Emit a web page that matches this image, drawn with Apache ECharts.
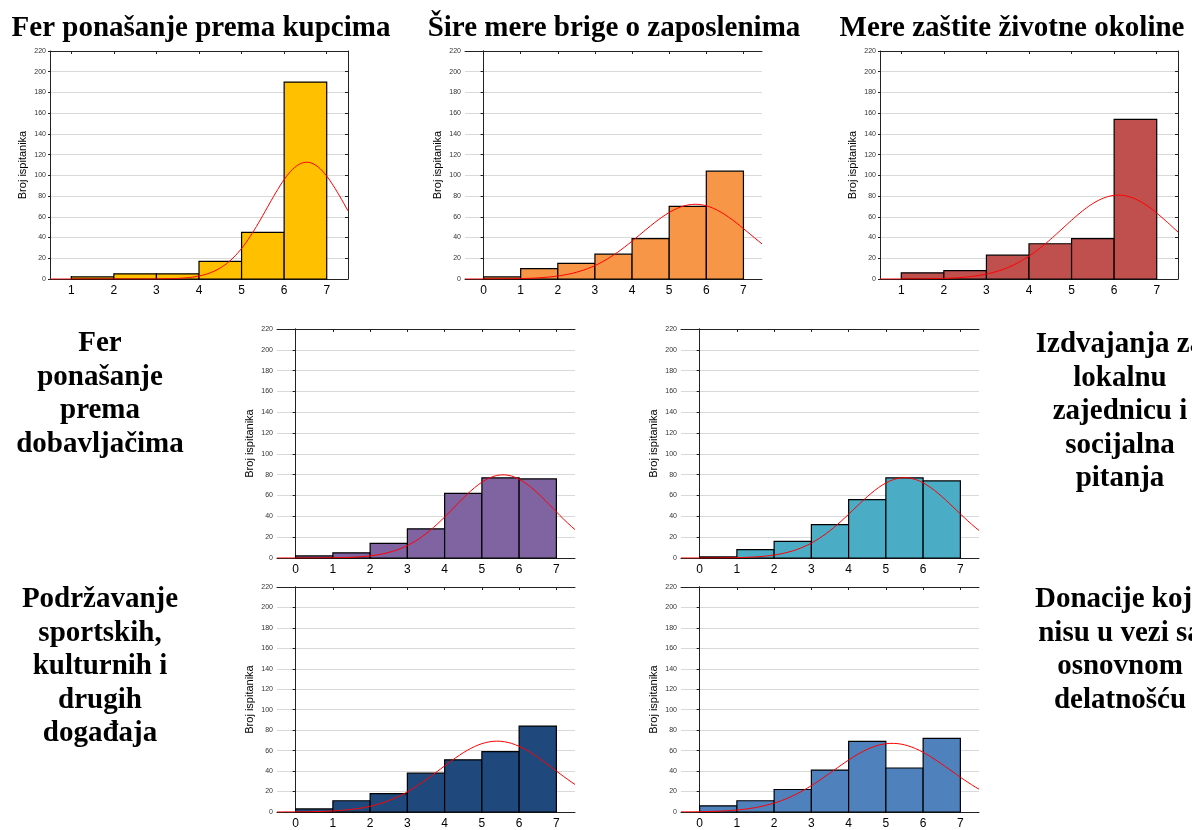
<!DOCTYPE html>
<html>
<head>
<meta charset="utf-8">
<script src="https://cdn.jsdelivr.net/npm/echarts@6/dist/echarts.min.js"></script>
<style>
  html, body { margin: 0; padding: 0; background: #fff; }
  #chart { width: 1192px; height: 830px; }
</style>
</head>
<body>
<div id="chart"></div>
<script>
// Histograms of respondent ratings for seven CSR activity areas.
// Each bar covers the bin (k-1, k] and holds the answers with rating k.

const panelTitles = [
  'Fer ponašanje prema kupcima',
  'Šire mere brige o zaposlenima',
  'Mere zaštite životne okoline',
  'Fer\nponašanje\nprema\ndobavljačima',
  'Izdvajanja za\nlokalnu\nzajednicu i\nsocijalna\npitanja',
  'Podržavanje\nsportskih,\nkulturnih i\ndrugih\ndogađaja',
  'Donacije koje\nnisu u vezi sa\nosnovnom\ndelatnošću'
];

// left edge of the first bin in each panel
const firstBinStart = [1, 0, 1, 0, 0, 0, 0];

// number of respondents per bin
const countsKupci      = [2, 5, 5, 17, 45, 190];
const countsZaposleni  = [2, 10, 15, 24, 39, 70, 104];
const countsOkolina    = [6, 8, 23, 34, 39, 154];
const countsDobavljaci = [2, 5, 14, 28, 62, 77, 76];
const countsZajednica  = [1, 8, 16, 32, 56, 77, 74];
const countsDogadjaji  = [3, 11, 18, 38, 51, 59, 84];
const countsDonacije   = [6, 11, 22, 41, 69, 43, 72];

const xTicksFrom1 = [1, 2, 3, 4, 5, 6, 7];
const xTicksFrom0 = [0, 1, 2, 3, 4, 5, 6, 7];
const yMax = 220;
const yStep = 20;
const yAxisName = 'Broj ispitanika';

const panelCounts = [countsKupci, countsZaposleni, countsOkolina, countsDobavljaci,
                     countsZajednica, countsDogadjaji, countsDonacije];
const panelTicks = [xTicksFrom1, xTicksFrom0, xTicksFrom1, xTicksFrom0,
                    xTicksFrom0, xTicksFrom0, xTicksFrom0];

// ---- styling / layout ----
const barColors = ['#FFC000', '#F79646', '#C0504D', '#8064A2', '#4BACC6', '#1F497D', '#4F81BD'];
const gridBoxes = [
  [50, 51, 298, 228], [465, 51, 297, 228], [880, 51, 298, 228],
  [277, 329, 298, 229], [681, 329, 298, 229],
  [277, 587, 298, 228], [681, 587, 298, 228]
];
const titleSpots = [
  [201, 29], [614, 29], [1012, 29],
  [100, 394], [1120, 412],
  [100, 667], [1120, 650]
];

const serifBold = 'bold 29px "Liberation Serif", "Times New Roman", serif';
const sansFont = '"Liberation Sans", Arial, sans-serif';

const grids = [], xAxes = [], yAxes = [], series = [], graphics = [];

panelCounts.forEach((counts, i) => {
  const [gl, gt, gw, gh] = gridBoxes[i];
  const ticks = panelTicks[i];
  const xMin = ticks[0] - 0.5;
  const xMax = ticks[ticks.length - 1] + 0.5;

  grids.push({ left: gl, top: gt, width: gw, height: gh, containLabel: false });

  // bottom axis with integer labels, plus a mirrored top axis
  xAxes.push({
    gridIndex: i, type: 'value', min: xMin, max: xMax, position: 'bottom',
    axisLine: { show: true, onZero: false, lineStyle: { color: '#222', width: 1 } },
    axisTick: { show: true, inside: true, length: 3, customValues: ticks, lineStyle: { color: '#222' } },
    axisLabel: { customValues: ticks, fontSize: 12, color: '#000', margin: 6, fontFamily: sansFont },
    splitLine: { show: false }
  });
  xAxes.push({
    gridIndex: i, type: 'value', min: xMin, max: xMax, position: 'top',
    axisLine: { show: true, onZero: false, lineStyle: { color: '#222', width: 1 } },
    axisTick: { show: true, inside: true, length: 3, customValues: ticks, lineStyle: { color: '#222' } },
    axisLabel: { show: false },
    splitLine: { show: false }
  });

  yAxes.push({
    gridIndex: i, type: 'value', min: 0, max: yMax, interval: yStep, position: 'left',
    name: yAxisName, nameLocation: 'middle', nameGap: 22,
    nameTextStyle: { fontSize: 11, color: '#000', fontFamily: sansFont },
    axisLine: { show: true, lineStyle: { color: '#222', width: 1 } },
    axisTick: { show: true, inside: false, length: 2, lineStyle: { color: '#222' } },
    axisLabel: { fontSize: 7, color: '#333', margin: 4, fontFamily: sansFont },
    splitLine: { show: true, lineStyle: { color: '#d9d9d9', width: 1 } }
  });
  yAxes.push({
    gridIndex: i, type: 'value', min: 0, max: yMax, interval: yStep, position: 'right',
    axisLine: { show: true, lineStyle: { color: '#222', width: 1 } },
    axisTick: { show: true, inside: true, length: 3, lineStyle: { color: '#222' } },
    axisLabel: { show: false },
    splitLine: { show: false }
  });

  const xIdx = 2 * i, yIdx = 2 * i;
  const start = firstBinStart[i];
  const bins = counts.map((c, k) => [start + k, start + k + 1, c]);

  series.push({
    type: 'custom', xAxisIndex: xIdx, yAxisIndex: yIdx, data: bins,
    encode: { x: [0, 1], y: 2 }, animation: false, silent: true, z: 2,
    renderItem: (params, api) => {
      const topLeft = api.coord([api.value(0), api.value(2)]);
      const bottomRight = api.coord([api.value(1), 0]);
      return {
        type: 'rect',
        shape: { x: topLeft[0], y: topLeft[1], width: bottomRight[0] - topLeft[0], height: bottomRight[1] - topLeft[1] },
        style: { fill: barColors[i], stroke: '#000', lineWidth: 1.2 }
      };
    }
  });

  // fitted normal curve: mean and SD of the ratings, scaled to the respondent total
  const n = counts.reduce((a, b) => a + b, 0);
  const mean = counts.reduce((a, c, k) => a + c * (start + k + 1), 0) / n;
  const variance = counts.reduce((a, c, k) => a + c * Math.pow(start + k + 1 - mean, 2), 0) / (n - 1);
  const sd = Math.sqrt(variance);
  const curve = [];
  for (let x = xMin; x <= xMax + 1e-9; x += 0.05) {
    const z = (x - mean) / sd;
    curve.push([x, n * Math.exp(-0.5 * z * z) / (sd * Math.sqrt(2 * Math.PI))]);
  }
  series.push({
    type: 'line', xAxisIndex: xIdx, yAxisIndex: yIdx, data: curve,
    showSymbol: false, symbol: 'none', smooth: false, animation: false, silent: true, z: 3,
    lineStyle: { color: '#ff0000', width: 1 }, clip: true
  });

  const [tx, ty] = titleSpots[i];
  graphics.push({
    type: 'text', x: tx, y: ty, silent: true,
    style: {
      text: panelTitles[i], font: serifBold, fill: '#000',
      align: 'center', verticalAlign: 'middle', lineHeight: 33.5
    }
  });
});

const chart = echarts.init(document.getElementById('chart'), null, { renderer: 'canvas' });
chart.setOption({
  backgroundColor: '#fff',
  animation: false,
  grid: grids,
  xAxis: xAxes,
  yAxis: yAxes,
  series: series,
  graphic: graphics
});
</script>
</body>
</html>
